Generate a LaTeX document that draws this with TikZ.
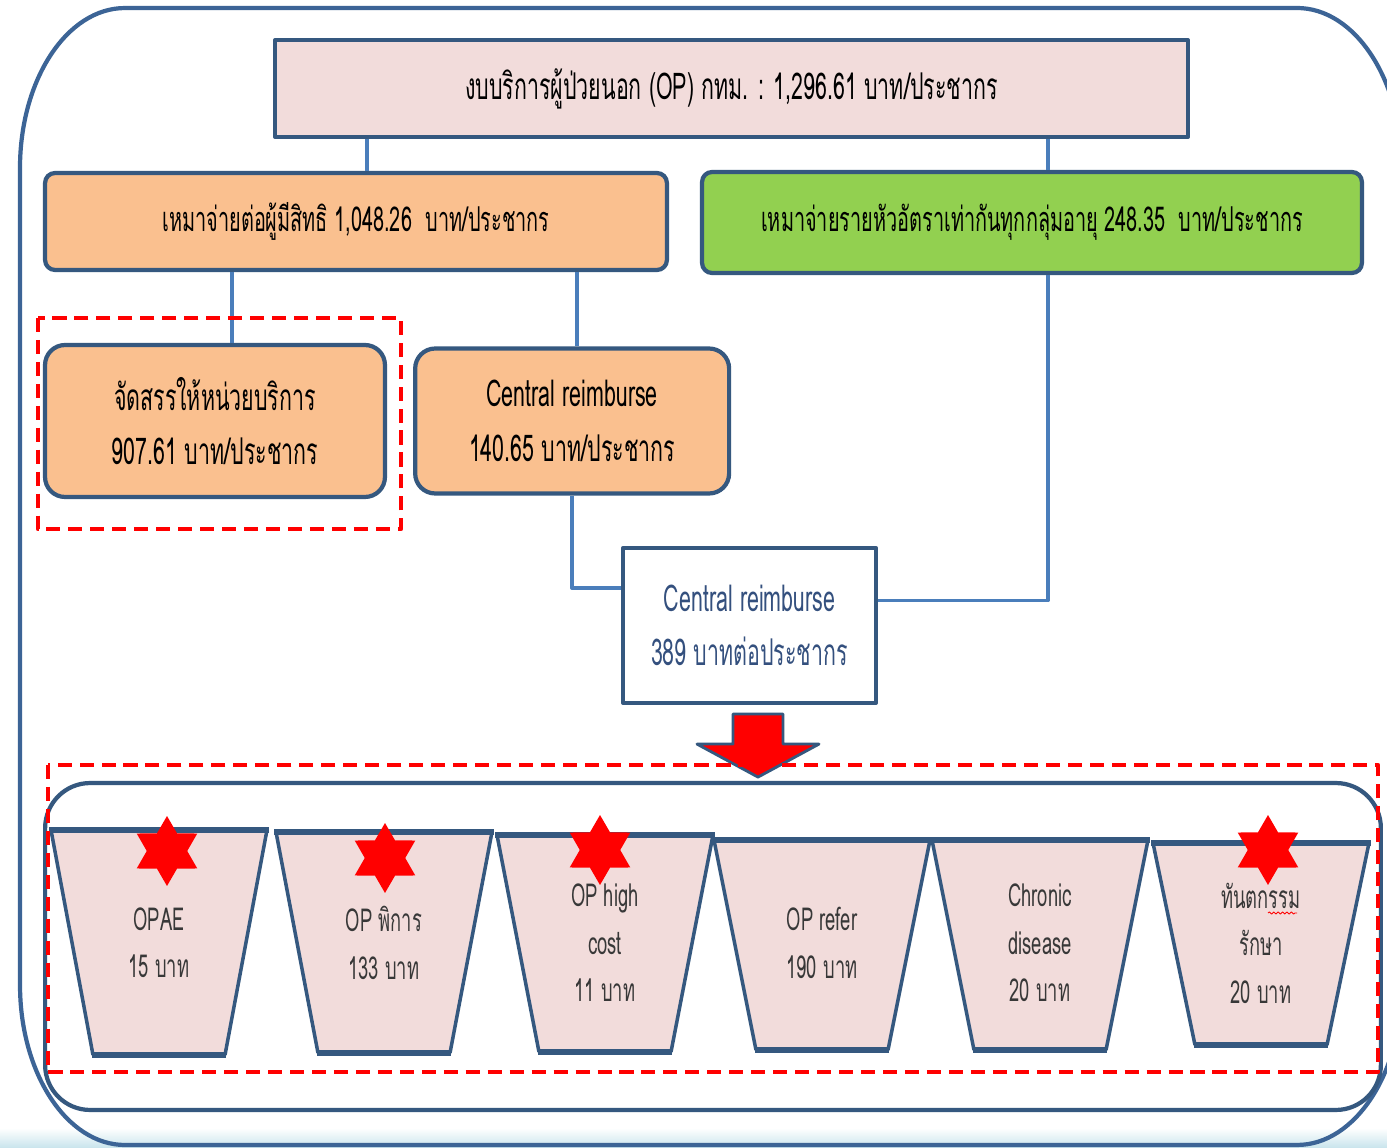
\documentclass[tikz,border=0pt]{standalone}
\usepackage{fontspec}
\setmainfont[Script=Thai,FakeStretch=0.58]{Loma}
\usetikzlibrary{positioning,calc,shapes.geometric,decorations.pathmorphing}

\definecolor{navy}{HTML}{35587F}
\definecolor{wire}{HTML}{4A7EBB}
\definecolor{rim}{HTML}{3C6496}
\definecolor{pinkfill}{HTML}{F2DCDB}
\definecolor{orangefill}{HTML}{FAC08F}
\definecolor{greenfill}{HTML}{92D050}
\definecolor{inkblue}{HTML}{34507E}
\definecolor{cupink}{HTML}{383838}

\begin{document}
\begin{tikzpicture}[x=0.02cm,y=-0.02cm,line join=round]

  \tikzset{
    box/.style={draw=navy,line width=2.4pt,inner sep=0pt,align=center,
      font=\fontsize{21}{31}\selectfont},
    rc/.style={rounded corners=2mm,font=\fontsize{19.5}{31}\selectfont},
    conn/.style={draw=wire,line width=2.2pt},
    redbox/.style={draw=red,line width=2.4pt,dash pattern=on 8pt off 4.5pt},
    side/.style={draw=navy,line width=2pt},
    rimline/.style={draw=navy,line width=3.6pt},
    hexstar/.style={star,star points=6,star point ratio=1.73,fill=red,
      inner sep=0pt,minimum size=1.4cm},
  }

  \useasboundingbox (0,0) rectangle (1387,1148);
  \fill[white] (0,0) rectangle (1387,1148);
  \shade[top color=white,bottom color={rgb,255:red,200;green,228;blue,236}]
    (0,1128) rectangle (1387,1148);

  % frame
  \draw[rim,line width=2.4pt] (20,168)
    arc[start angle=180,end angle=90,x radius=2.1cm,y radius=3.2cm] -- (1297,8)
    arc[start angle=90,end angle=0,x radius=2.1cm,y radius=3.2cm] -- (1402,985)
    arc[start angle=0,end angle=-90,x radius=2.1cm,y radius=3.2cm] -- (125,1145)
    arc[start angle=270,end angle=180,x radius=2.1cm,y radius=3.2cm] -- cycle;

  \node[box,fill=pinkfill,minimum width=18.26cm,minimum height=1.94cm] (budget)
    at (731.5,88.5) {งบบริการผู้ป่วยนอก (OP) กทม. : 1,296.61 บาท/ประชากร};
  \node[box,rc,fill=orangefill,minimum width=12.44cm,minimum height=1.94cm] (capita)
    at (356,221.5) {เหมาจ่ายต่อผู้มีสิทธิ 1,048.26~~บาท/ประชากร};
  \node[box,rc,fill=greenfill,minimum width=13.2cm,minimum height=2.02cm] (equal)
    at (1032,222.5) {เหมาจ่ายรายหัวอัตราเท่ากันทุกกลุ่มอายุ 248.35~~บาท/ประชากร};

  \node[box,rounded corners=4mm,fill=orangefill,minimum width=6.8cm,minimum height=3.04cm]
    (alloc) at (215,421) {จัดสรรให้หน่วยบริการ\\907.61 บาท/ประชากร};
  \node[box,rounded corners=4mm,fill=orangefill,minimum width=6.28cm,minimum height=2.9cm]
    (central) [right=0.52cm of alloc] {Central reimburse\\140.65 บาท/ประชากร};
  \node[box,fill=white,text=inkblue,minimum width=5.06cm,minimum height=3.1cm]
    (pool) at (749.5,625.5) {Central reimburse\\389 บาทต่อประชากร};

  \draw[conn] ([xshift=0.22cm]capita.north) -- ([xshift=0.22cm]capita.north |- budget.south);
  \draw[conn] ([xshift=0.32cm]equal.north) -- ([xshift=0.32cm]equal.north |- budget.south);
  \draw[conn] ([xshift=0.34cm]alloc.north) -- ([xshift=0.34cm]alloc.north |- capita.south);
  \draw[conn] ([xshift=0.1cm]central.north) -- ([xshift=0.1cm]central.north |- capita.south);
  \draw[conn] (central.south) |- ([yshift=0.75cm]pool.west);
  \draw[conn] ([xshift=0.32cm]equal.south) |- ([yshift=0.5cm]pool.east);

  % funds
  \node[draw=navy,line width=2.4pt,rounded corners=0.9cm,minimum width=26.72cm,
    minimum height=6.54cm] (belt) at (713,946.5) {};

  \foreach \cx/\ty/\by/\lbl [count=\i] in {
      159/830/1055/{OPAE\\15 บาท},
      384/832/1053/{OP พิการ\\133 บาท},
      605/835/1052/{OP high\\cost\\11 บาท},
      822/840/1050/{OP refer\\190 บาท},
      1040/840/1050/{Chronic\\disease\\20 บาท},
      1261/843/1045/{ทันตกรรม\\รักษา\\20 บาท}}{
    \fill[pinkfill] (\cx-108,\ty) -- (\cx+108,\ty) -- (\cx+66,\by) -- (\cx-66,\by) -- cycle;
    \draw[side] (\cx-108,\ty) -- (\cx-66,\by) (\cx+108,\ty) -- (\cx+66,\by);
    \draw[rimline] (\cx-110,\ty) -- (\cx+110,\ty) (\cx-67,\by) -- (\cx+67,\by);
    \node[align=center,text=cupink,font=\fontsize{18}{27}\selectfont] (cup\i)
      at (\cx,943) {\lbl};
  }
  \draw[red,line width=0.5pt,decorate,decoration={snake,amplitude=0.6pt,segment length=2.5pt}]
    (1268,913) -- (1297,913);

  \foreach \sx/\sy [count=\k] in {167/851,385/858,600/850,1268/850}
    \node[hexstar] (star\k) at (\sx,\sy) {};

  \coordinate (flowtop) at ([xshift=0.17cm,yshift=-0.18cm]pool.south);
  \fill[red,draw=navy,line width=1.6pt] (flowtop) +(-25,0) -- +(-25,30) -- +(-61,30)
    -- +(0,63) -- +(61,30) -- +(25,30) -- +(25,0) -- cycle;

  \draw[redbox] ([shift={(-0.1cm,0.5cm)}]alloc.north west) rectangle
    ([shift={(0.28cm,-0.6cm)}]alloc.south east);
  \draw[redbox] (48,765) rectangle (1378,1072);

\end{tikzpicture}
\end{document}
